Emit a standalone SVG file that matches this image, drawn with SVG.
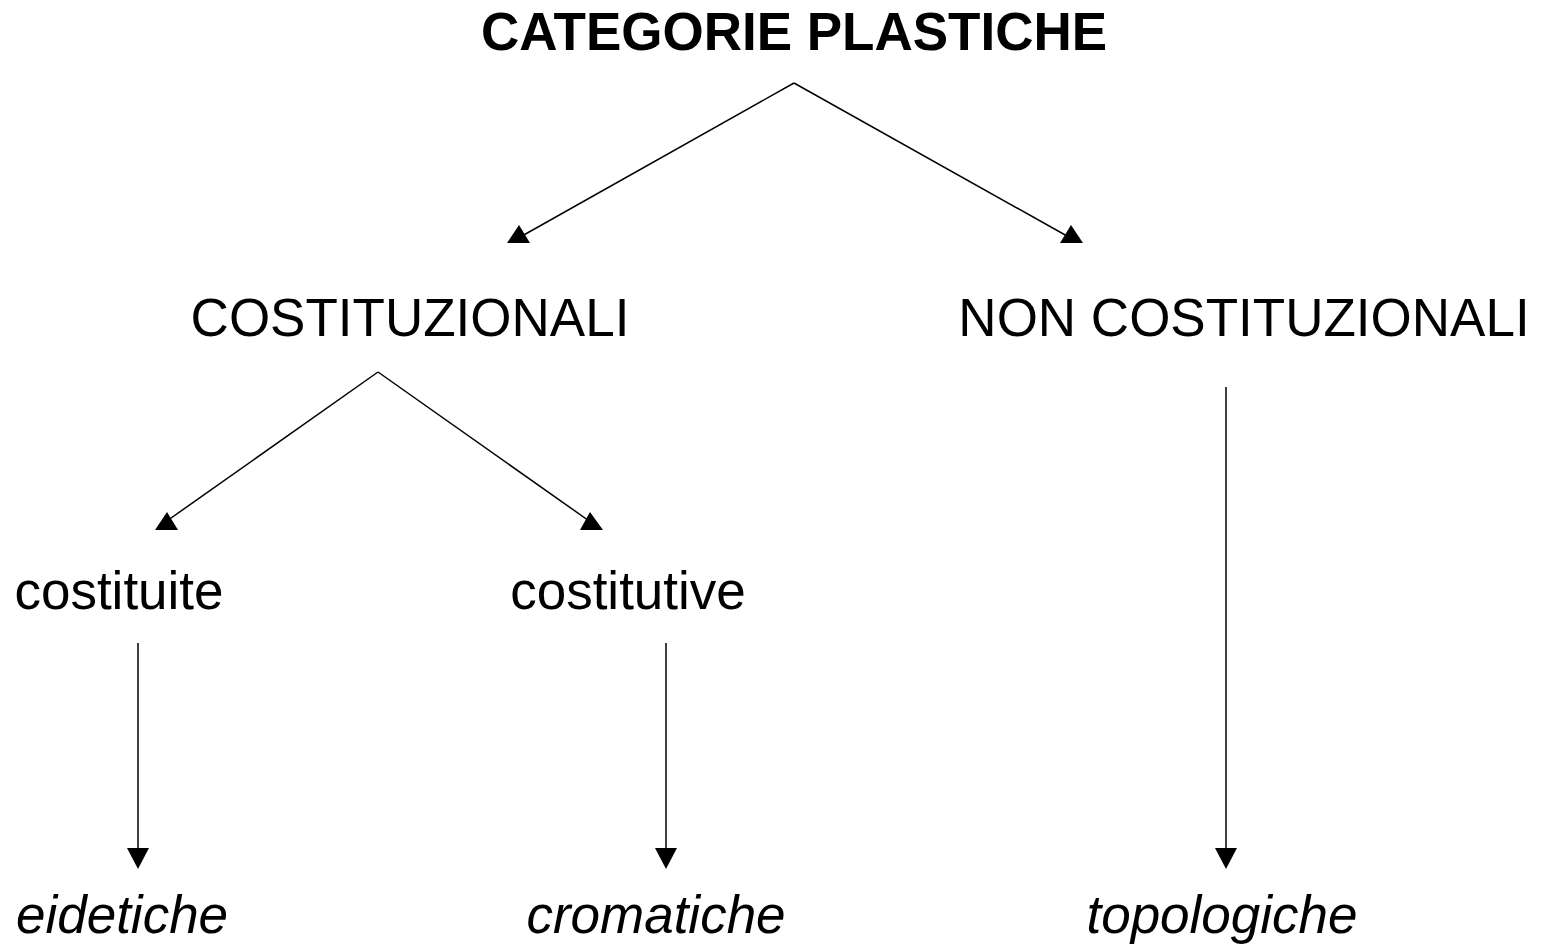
<svg xmlns="http://www.w3.org/2000/svg" width="1541" height="946" viewBox="0 0 1541 946">
<style>
text{font-family:"Liberation Sans",Arial,sans-serif;font-size:53px;fill:#000;text-anchor:middle}
.b{font-weight:bold}
.i{font-style:italic}
.c line{stroke:#000;stroke-width:1.5;fill:none}
.c polygon{fill:#000}
</style>
<rect width="1541" height="946" fill="#fff"/>
<g id="n-title"><text class="b" x="794" y="50">CATEGORIE PLASTICHE</text></g>
<g id="n-cost"><text x="410" y="336">COSTITUZIONALI</text></g>
<g id="n-noncost"><text x="1244" y="336">NON COSTITUZIONALI</text></g>
<g id="n-costituite"><text x="119" y="609">costituite</text></g>
<g id="n-costitutive"><text x="628" y="609">costitutive</text></g>
<g id="n-eidetiche"><text class="i" x="122" y="933">eidetiche</text></g>
<g id="n-cromatiche"><text class="i" x="656" y="933">cromatiche</text></g>
<g id="n-topologiche"><text class="i" x="1222" y="933">topologiche</text></g>
<g class="c" id="connectors">
<line x1="794" y1="83" x2="522" y2="236"/>
<polygon points="507,243 530,243 519,225"/>
<line x1="794" y1="83" x2="1067" y2="236"/>
<polygon points="1060,243 1083,243 1071,225"/>
<line x1="378" y1="372" x2="164" y2="523"/>
<polygon points="155,530 178,530 167,512"/>
<line x1="378" y1="372" x2="592" y2="523"/>
<polygon points="580,530 603,530 590,512"/>
<line x1="138" y1="643" x2="138" y2="850"/>
<polygon points="127,848 149,848 138,869"/>
<line x1="666" y1="643" x2="666" y2="850"/>
<polygon points="655,848 677,848 666,869"/>
<line x1="1226" y1="387" x2="1226" y2="850"/>
<polygon points="1215,848 1237,848 1226,869"/>
</g>
</svg>
